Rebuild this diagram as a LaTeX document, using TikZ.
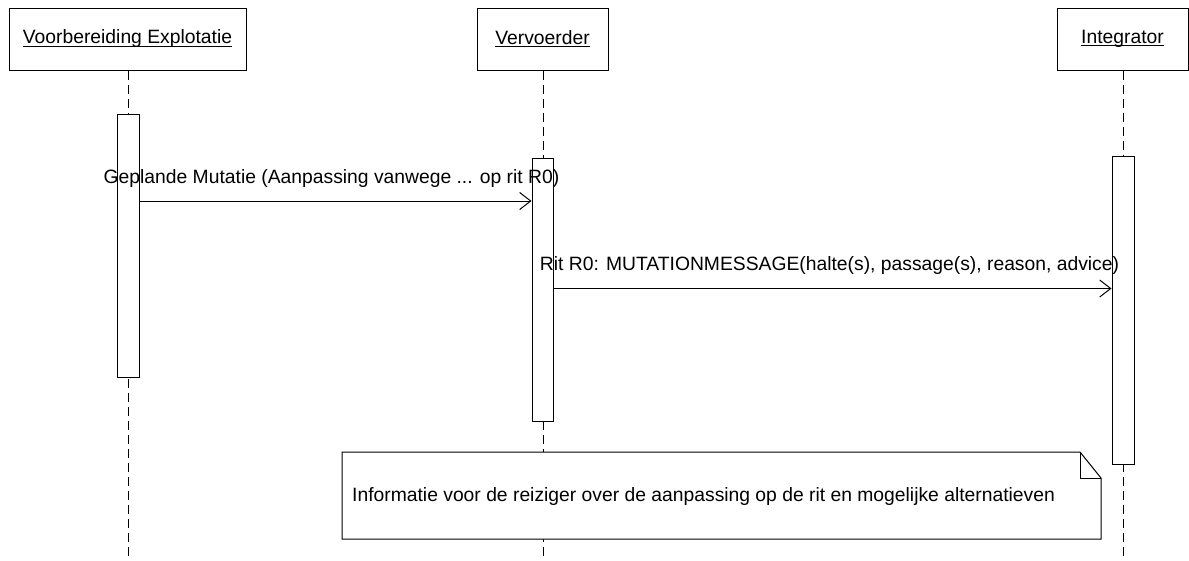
\documentclass[tikz,border=0pt]{standalone}
\usepackage{fontspec}
\setmainfont{Liberation Sans}
\usetikzlibrary{arrows.meta}
% underline drawn just below the baseline
\newcommand\uln[1]{\setbox0\hbox{#1}\rlap{\rule[-2.6pt]{\wd0}{0.9pt}}\box0}
\begin{document}
\begin{tikzpicture}[x=1pt,y=-1pt,
  every node/.style={font=\fontsize{19.3}{23}\selectfont},
  head/.style={draw, line width=1pt, fill=white, minimum height=62pt, inner sep=0pt},
  act/.style={draw, line width=1pt, fill=white, inner sep=0pt, minimum width=22pt},
  life/.style={line width=1pt, dash pattern=on 9pt off 5pt},
  msg/.style={line width=1pt, -{Straight Barb[length=11pt,width=17pt]}},
  msglabel/.style={midway, anchor=base, yshift=18pt, inner sep=0pt}]
\useasboundingbox (0,0) rectangle (1189,560);

% participants
\node[head, minimum width=237pt] (h1) at (127.5,39) {\uln{Voorbereiding Explotatie}};
\node[head, minimum width=131pt] (h2) at (542.5,39) {\uln{Vervoerder}};
\node[head, minimum width=131pt] (h3) at (1122.5,39) {\uln{Integrator}};

% lifeline ends
\coordinate (e1) at (128,560);
\coordinate (e2) at (543,560);
\coordinate (e3) at (1123,560);
\draw[life] (h1.south -| e1) -- (e1);
\draw[life] (h2.south -| e2) -- (e2);
\draw[life] (h3.south -| e3) -- (e3);

% activation bars
\node[act, minimum height=263pt] (a1) at (128,245.5) {};
\node[act, minimum width=21pt, minimum height=263pt] (a2) at (542.5,289.5) {};
\node[act, minimum height=308pt] (a3) at (1123,310) {};

% messages
\coordinate (m1) at (0,201);
\coordinate (m2) at (0,288.5);
\draw[msg] (a1.east |- m1) -- node[msglabel, xshift=-4pt] {Geplande Mutatie (Aanpassing vanwege ... op rit R0)} (a2.west |- m1);
\draw[msg] (a2.east |- m2) -- node[msglabel, xshift=-3pt] {Rit R0: MUTATIONMESSAGE(halte(s), passage(s), reason, advice)} (a3.west |- m2);

% note with folded corner
\coordinate (nTL) at (342,452);
\coordinate (nF1) at (1080,452);
\coordinate (nF2) at (1101,478);
\coordinate (nBR) at (1101,539);
\draw[line width=1pt, fill=white] (nTL) -- (nF1) -- (nF2) -- (nBR) -- (nTL |- nBR) -- cycle;
\draw[line width=1pt] (nF1) -- (nF1 |- nF2) -- (nF2);
\node[anchor=west, inner sep=0pt] (note) at (352,497) {Informatie voor de reiziger over de aanpassing op de rit en mogelijke alternatieven};
\end{tikzpicture}
\end{document}
